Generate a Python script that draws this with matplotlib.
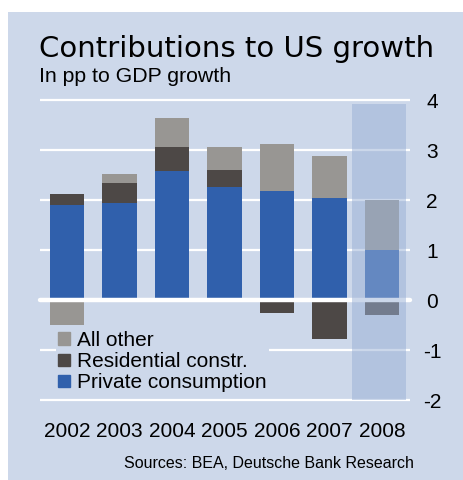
import matplotlib.pyplot as plt
from matplotlib.patches import Rectangle, Patch
import numpy as np

plt.rcParams['font.family'] = ['Liberation Sans', 'DejaVu Sans']
plt.rcParams['axes.unicode_minus'] = False

# Data (pp contribution to GDP growth)
years = ['2002', '2003', '2004', '2005', '2006', '2007', '2008']
private_consumption = [1.90, 1.94, 2.58, 2.26, 2.18, 2.04, 1.00]
residential = [0.22, 0.40, 0.48, 0.34, -0.26, -0.78, -0.30]
all_other = [-0.50, 0.18, 0.58, 0.46, 0.94, 0.84, 1.00]
forecast_year = '2008'
y_ticks = [-2, -1, 0, 1, 2, 3, 4]

# Colours
bg = '#cdd8ea'
c_private = '#3060ac'
c_resid = '#4d4846'
c_other = '#989693'
c_shade = '#99b0d6'

W, H = 464, 480
fig = plt.figure(figsize=(W / 100, H / 100), dpi=100)
fig.patch.set_facecolor('white')
fig.patches.append(Rectangle((8 / W, 0), 1, 1 - 12 / H, transform=fig.transFigure,
                             facecolor=bg, edgecolor='none', zorder=-5))

ax = fig.add_axes([40 / W, (H - 402.5) / H, 370 / W, 305 / H])
ax.set_facecolor(bg)
ax.patch.set_alpha(0)

x = np.arange(len(years))
width = 0.65
pos_bottom = np.zeros(len(years))
neg_bottom = np.zeros(len(years))
for vals, col in [(private_consumption, c_private), (residential, c_resid), (all_other, c_other)]:
    vals = np.array(vals)
    bottom = np.where(vals >= 0, pos_bottom, neg_bottom)
    ax.bar(x, vals, width, bottom=bottom, color=col, zorder=2)
    pos_bottom += np.where(vals >= 0, vals, 0)
    neg_bottom += np.where(vals < 0, vals, 0)

# forecast shading
fi = years.index(forecast_year)
ax.add_patch(Rectangle((fi - 0.57, y_ticks[0]), 1.03, 5.92, facecolor=c_shade,
                       alpha=0.5, edgecolor='none', zorder=3))

ax.set_xlim(-0.514, len(years) - 1 + 0.533)
ax.set_ylim(-2.05, 4.05)
ax.set_yticks(y_ticks)
ax.set_axisbelow(True)
ax.grid(axis='y', color='white', lw=1.6)
ax.axhline(0, color='white', lw=3.2, solid_capstyle='round', zorder=2.5, clip_on=False)
for s in ax.spines.values():
    s.set_visible(False)

ax.set_xticks(x, years)
ax.yaxis.tick_right()
ax.tick_params(axis='y', length=0, pad=16, labelsize=15)
ax.tick_params(axis='x', length=0, pad=14, labelsize=15)
plt.setp(ax.get_yticklabels(), ha='center')

handles = [Patch(color=c_other, label='All other'),
           Patch(color=c_resid, label='Residential constr.'),
           Patch(color=c_private, label='Private consumption')]
leg = fig.legend(handles=handles, loc='upper left', bbox_to_anchor=(56 / W, 1 - 329 / H),
                 fontsize=15, frameon=True, facecolor=bg, edgecolor='none', framealpha=1,
                 fancybox=False, borderpad=0.1, handlelength=0.55, handleheight=0.55,
                 handletextpad=0.35, labelspacing=0.1, borderaxespad=0)

fig.text(39 / W, 1 - 57 / H, 'Contributions to US growth', family='DejaVu Sans',
         fontsize=21, va='baseline', ha='left')
fig.text(39 / W, 1 - 77 / H, 'In pp to GDP growth', fontsize=15.3, va='center', ha='left')
fig.text(414 / W, 1 - 464 / H, 'Sources: BEA, Deutsche Bank Research', fontsize=11.5,
         va='center', ha='right')

fig.savefig('out.png', dpi=100)
